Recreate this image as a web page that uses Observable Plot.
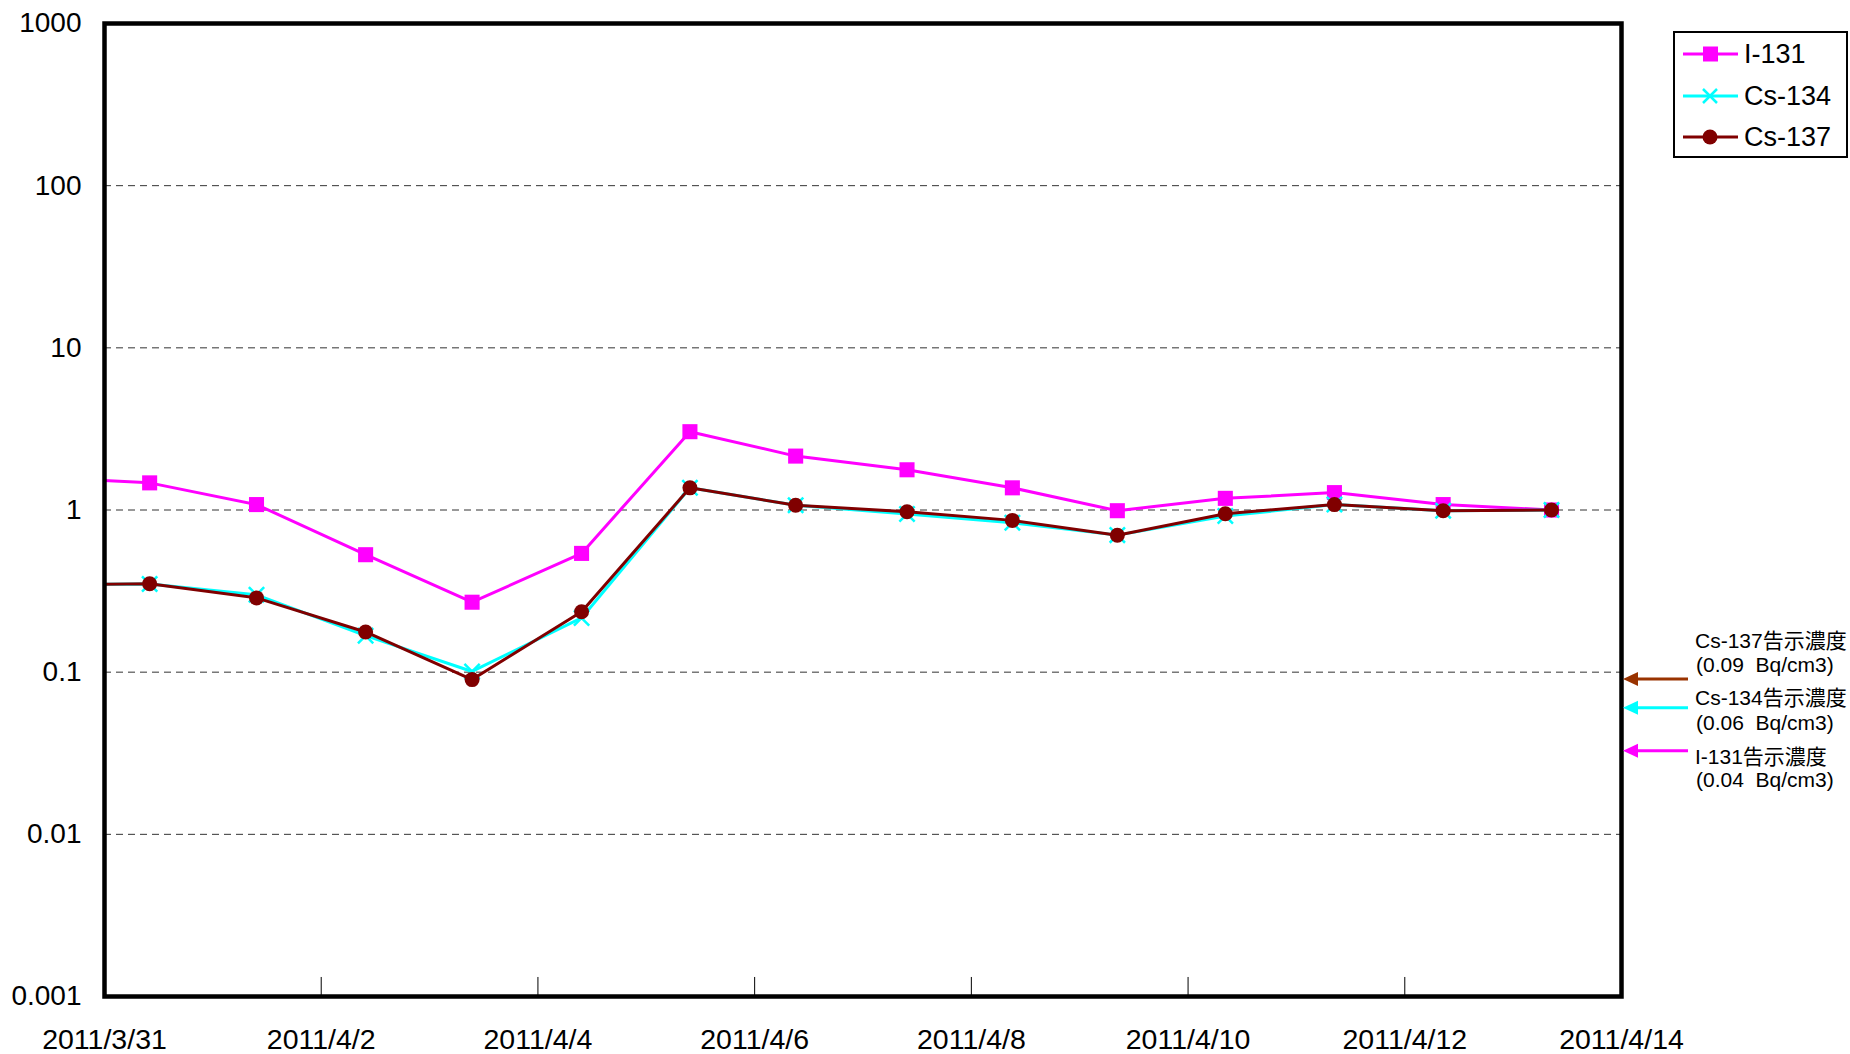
<!DOCTYPE html>
<html>
<head>
<meta charset="utf-8">
<script src="https://cdn.jsdelivr.net/npm/d3@7"></script>
<script src="https://cdn.jsdelivr.net/npm/@observablehq/plot@0.6"></script>
<style>
  html, body { margin: 0; padding: 0; background: white; }
  #chart { width: 1850px; height: 1054px; }
</style>
</head>
<body>
<div id="chart"></div>
<script>
// ---- data ----
const sampleTimes = [
  "2011-03-30T09:30", "2011-03-31T10:00", "2011-04-01T09:40", "2011-04-02T09:50",
  "2011-04-03T09:25", "2011-04-04T09:40", "2011-04-05T09:40", "2011-04-06T09:05",
  "2011-04-07T09:45", "2011-04-08T09:05", "2011-04-09T08:20", "2011-04-10T08:15",
  "2011-04-11T08:25", "2011-04-12T08:30", "2011-04-13T08:30"
];
const i131 = [1.59, 1.47, 1.08, 0.53, 0.27, 0.54, 3.04, 2.15, 1.77, 1.37, 0.99, 1.18, 1.28, 1.08, 1.0];
const cs134 = [0.345, 0.35, 0.30, 0.168, 0.101, 0.216, 1.37, 1.07, 0.945, 0.835, 0.70, 0.918, 1.08, 0.99, 1.0];
const cs137 = [0.345, 0.351, 0.287, 0.177, 0.090, 0.236, 1.37, 1.07, 0.976, 0.863, 0.698, 0.948, 1.08, 0.99, 1.0];

const seriesNames = ["I-131", "Cs-134", "Cs-137"];
const seriesColors = ["#FF00FF", "#00FFFF", "#800000"];

const yTicks = [0.001, 0.01, 0.1, 1, 10, 100, 1000];
const gridLevels = [0.01, 0.1, 1, 10, 100];
const xTickLabels = ["2011-03-31", "2011-04-02", "2011-04-04", "2011-04-06", "2011-04-08", "2011-04-10", "2011-04-12", "2011-04-14"];
const xInnerTicks = ["2011-04-02", "2011-04-04", "2011-04-06", "2011-04-08", "2011-04-10", "2011-04-12"];
const xDomain = ["2011-03-31", "2011-04-14"];

// notification limits (告示濃度)
const limitNames = ["Cs-137告示濃度", "Cs-134告示濃度", "I-131告示濃度"];
const limitTexts = ["(0.09  Bq/cm3)", "(0.06  Bq/cm3)", "(0.04  Bq/cm3)"];
const limitArrowLevels = [0.09, 0.06, 0.0325]; // arrow heights as drawn in the picture
const limitColors = ["#993300", "#00FFFF", "#FF00FF"];

// ---- build ----
const parseT = s => new Date(s.length > 10 ? s + ":00Z" : s + "T00:00:00Z");
const mk = (vals, name) => vals.map((v, i) => ({date: parseT(sampleTimes[i]), value: v, series: name}));
const rowsI = mk(i131, "I-131");
const rows134 = mk(cs134, "Cs-134");
const rows137 = mk(cs137, "Cs-137");

const FONT = "'Liberation Sans', Arial, 'Noto Sans CJK JP', sans-serif";

const chart = Plot.plot({
  width: 1850,
  height: 1054,
  marginLeft: 104,
  marginRight: 229,
  marginTop: 23,
  marginBottom: 58,
  style: {fontFamily: FONT, background: "white", color: "black"},
  x: {type: "utc", domain: xDomain.map(parseT)},
  y: {type: "log", domain: [0.001, 1000]},
  marks: [
    Plot.ruleY(gridLevels, {stroke: "#333", strokeWidth: 1, strokeDasharray: "7,5"}),
    Plot.ruleX(xInnerTicks.map(parseT), {y1: 0.001, y2: 0.00131, stroke: "black", strokeWidth: 1}),
    Plot.line(rowsI, {x: "date", y: "value", stroke: seriesColors[0], strokeWidth: 3, clip: true}),
    Plot.dot(rowsI, {x: "date", y: "value", symbol: "square", r: 8.5, fill: seriesColors[0], clip: true}),
    Plot.line(rows134, {x: "date", y: "value", stroke: seriesColors[1], strokeWidth: 3, clip: true}),
    Plot.dot(rows134, {x: "date", y: "value", symbol: "times", r: 7, stroke: seriesColors[1], strokeWidth: 2.5, clip: true}),
    Plot.line(rows137, {x: "date", y: "value", stroke: seriesColors[2], strokeWidth: 3, clip: true}),
    Plot.dot(rows137, {x: "date", y: "value", symbol: "circle", r: 7.5, fill: seriesColors[2], clip: true}),
    Plot.axisX({ticks: xTickLabels.map(parseT), tickSize: 0, tickPadding: 32, fontSize: 28.5,
      tickFormat: d3.utcFormat("%Y/%-m/%-d"), label: null}),
    Plot.axisY({ticks: yTicks, tickSize: 0, tickPadding: 23, fontSize: 28,
      tickFormat: d => String(d), label: null}),
    Plot.frame({stroke: "black", strokeWidth: 4.5})
  ]
});
document.getElementById("chart").appendChild(chart);

// ---- legend & limit annotations (positioned from the plot's scales) ----
const svg = d3.select(chart);
const yS = chart.scale("y");
const right = 1850 - 229;

const lg = svg.append("g").attr("font-family", FONT).attr("text-anchor", "start");
lg.append("rect").attr("x", 1674).attr("y", 32).attr("width", 173).attr("height", 125)
  .attr("fill", "white").attr("stroke", "black").attr("stroke-width", 2);
const legendY = [54, 96, 137];
seriesNames.forEach((name, i) => {
  const y = legendY[i];
  const c = seriesColors[i];
  lg.append("line").attr("x1", 1683).attr("x2", 1738).attr("y1", y).attr("y2", y)
    .attr("stroke", c).attr("stroke-width", 3);
  if (i === 0) {
    lg.append("rect").attr("x", 1703).attr("y", y - 7.5).attr("width", 15).attr("height", 15).attr("fill", c);
  } else if (i === 1) {
    lg.append("path").attr("d", `M${1710-7},${y-7}L${1710+7},${y+7}M${1710-7},${y+7}L${1710+7},${y-7}`)
      .attr("stroke", c).attr("stroke-width", 2.5);
  } else {
    lg.append("circle").attr("cx", 1710).attr("cy", y).attr("r", 7.5).attr("fill", c);
  }
  lg.append("text").attr("x", 1744).attr("y", y).attr("dy", "0.35em")
    .attr("font-size", 27).attr("fill", "black").text(name);
});

const ann = svg.append("g").attr("font-family", FONT).attr("text-anchor", "start");
const textY = [[641, 665], [698, 723], [757, 780]];
limitArrowLevels.forEach((v, i) => {
  const y = yS.apply(v);
  const c = limitColors[i];
  ann.append("line").attr("x1", 1688).attr("x2", right + 14).attr("y1", y).attr("y2", y)
    .attr("stroke", c).attr("stroke-width", 3);
  ann.append("path").attr("d", `M${right + 2},${y}L${right + 17},${y - 7}L${right + 17},${y + 7}Z`).attr("fill", c);
  ann.append("text").attr("x", 1695).attr("y", textY[i][0]).attr("dy", "0.35em")
    .attr("font-size", 21).attr("fill", "black").text(limitNames[i]);
  ann.append("text").attr("x", 1696).attr("y", textY[i][1]).attr("dy", "0.35em")
    .attr("font-size", 21).attr("fill", "black").style("white-space", "pre").attr("xml:space", "preserve")
    .text(limitTexts[i]);
});
</script>
</body>
</html>
